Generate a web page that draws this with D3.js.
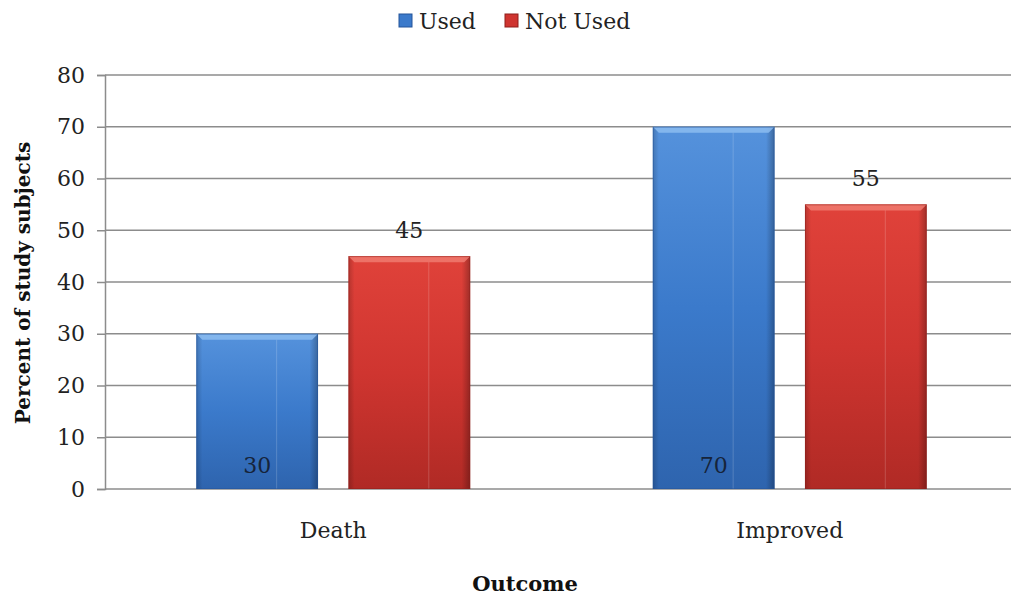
<!DOCTYPE html>
<html>
<head>
<meta charset="utf-8">
<script src="https://cdn.jsdelivr.net/npm/d3@7"></script>
<style>
  html, body { margin: 0; padding: 0; background: #fff; }
  svg { display: block; }
  text { font-family: "DejaVu Serif", serif; }
</style>
</head>
<body>
<svg id="chart" width="1011" height="598"></svg>
<script>
// Outcome categories and series
const categories = ["Death", "Improved"];
const seriesNames = ["Used", "Not Used"];
const usedValues = [30, 70];
const notUsedValues = [45, 55];
const yTicks = [0, 10, 20, 30, 40, 50, 60, 70, 80];

const colors = {
  "Used":     { top: "#5592dc", mid: "#3b7acb", bot: "#2e64ae", edge: "#24549a", hi: "#8cbcf0" },
  "Not Used": { top: "#e0423a", mid: "#cf3530", bot: "#b02a25", edge: "#8f1f1b", hi: "#f07a70" }
};

const rows = categories.map((c, i) => ({
  category: c,
  values: [
    { series: "Used", value: usedValues[i] },
    { series: "Not Used", value: notUsedValues[i] }
  ]
}));

const svg = d3.select("#chart");
const W = 1011;
const plot = { left: 105, right: 1018, top: 75, bottom: 489 };
const FONT = 22;

const x0 = d3.scaleBand().domain(categories).range([plot.left, plot.right]).paddingInner(0.4).paddingOuter(0.2);
const x1 = d3.scaleBand().domain(seriesNames).range([0, x0.bandwidth()]).paddingInner(0.2);
const y = d3.scaleLinear().domain([0, 80]).range([plot.bottom, plot.top]);

// Gradients for the shaded bars
const defs = svg.append("defs");
seriesNames.forEach((s, i) => {
  const c = colors[s];
  const v = defs.append("linearGradient").attr("id", "gv" + i).attr("x1", 0).attr("x2", 0).attr("y1", 0).attr("y2", 1);
  v.append("stop").attr("offset", "0%").attr("stop-color", c.top);
  v.append("stop").attr("offset", "50%").attr("stop-color", c.mid);
  v.append("stop").attr("offset", "100%").attr("stop-color", c.bot);
  const h = defs.append("linearGradient").attr("id", "gh" + i).attr("x1", 0).attr("x2", 1).attr("y1", 0).attr("y2", 0);
  h.append("stop").attr("offset", "0%").attr("stop-color", "#000").attr("stop-opacity", 0.18);
  h.append("stop").attr("offset", "5%").attr("stop-color", "#000").attr("stop-opacity", 0.0);
  h.append("stop").attr("offset", "93%").attr("stop-color", "#000").attr("stop-opacity", 0.0);
  h.append("stop").attr("offset", "100%").attr("stop-color", "#000").attr("stop-opacity", 0.28);
});

// Gridlines
svg.append("g")
  .selectAll("line")
  .data(yTicks)
  .join("line")
  .attr("x1", plot.left).attr("x2", W)
  .attr("y1", d => y(d)).attr("y2", d => y(d))
  .attr("stroke", "#8c8c8c").attr("stroke-width", 1.5);

// Y axis
const yAxis = svg.append("g")
  .attr("transform", `translate(${plot.left},0)`)
  .call(d3.axisLeft(y).tickValues(yTicks).tickSize(8).tickPadding(12));
yAxis.select(".domain").attr("stroke", "#8c8c8c").attr("stroke-width", 1.5);
yAxis.selectAll(".tick line").attr("stroke", "#8c8c8c").attr("stroke-width", 1.5);
yAxis.selectAll(".tick text")
  .attr("font-size", FONT).attr("fill", "#222")
  .style("font-family", '"DejaVu Serif", serif');

// Bars
const groups = svg.append("g")
  .selectAll("g")
  .data(rows)
  .join("g")
  .attr("transform", d => `translate(${x0(d.category)},0)`);

const bars = groups.selectAll("g.bar")
  .data(d => d.values)
  .join("g")
  .attr("class", "bar");

bars.each(function(d) {
  const g = d3.select(this);
  const i = seriesNames.indexOf(d.series);
  const c = colors[d.series];
  const bx = x1(d.series), bw = x1.bandwidth();
  const by = y(d.value), bh = y(0) - y(d.value);
  g.append("rect").attr("x", bx).attr("y", by).attr("width", bw).attr("height", bh)
    .attr("fill", `url(#gv${i})`);
  g.append("rect").attr("x", bx).attr("y", by).attr("width", bw).attr("height", bh)
    .attr("fill", `url(#gh${i})`);
  // top bevel
  const bev = 6;
  g.append("path")
    .attr("d", `M${bx},${by} L${bx + bw},${by} L${bx + bw - bev},${by + bev} L${bx + bev},${by + bev} Z`)
    .attr("fill", c.hi).attr("opacity", 0.85);
  // faint vertical highlight
  g.append("line")
    .attr("x1", bx + bw * 0.66).attr("x2", bx + bw * 0.66)
    .attr("y1", by + bev).attr("y2", y(0))
    .attr("stroke", "#fff").attr("stroke-opacity", 0.18).attr("stroke-width", 1);
  // outline
  g.append("rect").attr("x", bx + 0.5).attr("y", by + 0.5).attr("width", bw - 1).attr("height", bh - 1)
    .attr("fill", "none").attr("stroke", c.edge).attr("stroke-opacity", 0.5).attr("stroke-width", 1);
});

// Value labels: Used inside at the base, Not Used above the bar
bars.append("text")
  .attr("x", d => x1(d.series) + x1.bandwidth() / 2)
  .attr("y", d => d.series === "Used" ? y(0) - 16 : y(d.value) - 18)
  .attr("text-anchor", "middle")
  .attr("font-size", FONT)
  .attr("fill", d => d.series === "Used" ? "#16243a" : "#222")
  .text(d => d.value);

// Category labels
svg.append("g")
  .selectAll("text")
  .data(categories)
  .join("text")
  .attr("x", d => x0(d) + x0.bandwidth() / 2)
  .attr("y", 538)
  .attr("text-anchor", "middle")
  .attr("font-size", FONT)
  .attr("fill", "#222")
  .text(d => d);

// Axis titles
svg.append("text")
  .attr("x", 525).attr("y", 591)
  .attr("text-anchor", "middle")
  .attr("font-size", 21).attr("font-weight", "bold").attr("fill", "#111")
  .text("Outcome");

svg.append("text")
  .attr("transform", "translate(30,283) rotate(-90)")
  .attr("text-anchor", "middle")
  .attr("font-size", 20).attr("font-weight", "bold").attr("fill", "#111")
  .text("Percent of study subjects");

// Legend
const legendItems = [
  { name: "Used", x: 399 },
  { name: "Not Used", x: 505 }
];
const legend = svg.append("g").selectAll("g").data(legendItems).join("g")
  .attr("transform", d => `translate(${d.x},0)`);
legend.append("rect")
  .attr("x", 0).attr("y", 14).attr("width", 13).attr("height", 13)
  .attr("fill", d => colors[d.name].mid)
  .attr("stroke", d => colors[d.name].edge).attr("stroke-width", 1);
legend.append("text")
  .attr("x", 20).attr("y", 29)
  .attr("font-size", FONT).attr("fill", "#222")
  .text(d => d.name);
</script>
</body>
</html>
